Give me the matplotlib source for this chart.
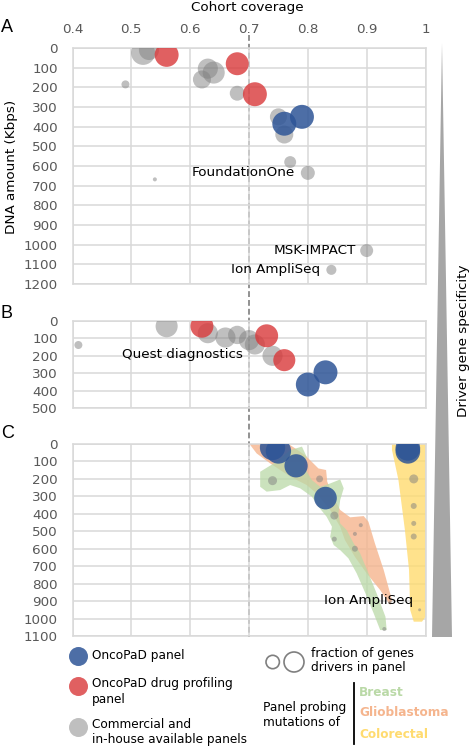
import numpy as np
import matplotlib
matplotlib.use("Agg")
import matplotlib.pyplot as plt
from matplotlib.patches import Polygon

plt.rcParams["font.family"] = "DejaVu Sans"

W, H = 472, 747          # output size in pixels (dpi 100)
S_MAX = 350              # marker area (pt^2) for a fraction of 1

X_TICKS = [0.4, 0.5, 0.6, 0.7, 0.8, 0.9, 1.0]
X_LABELS = ["0.4", "0.5", "0.6", "0.7", "0.8", "0.9", "1"]
THRESHOLD = 0.7

# panel A: cohort coverage, DNA amount (Kbps), fraction of genes drivers in panel
A_BLUE_X = [0.76, 0.79]
A_BLUE_Y = [385, 350]
A_BLUE_F = [0.85, 0.85]
A_RED_X = [0.56, 0.68, 0.71]
A_RED_Y = [35, 80, 235]
A_RED_F = [0.85, 0.78, 0.85]
A_GRAY_X = [0.52, 0.53, 0.49, 0.62, 0.63, 0.64, 0.68, 0.75, 0.76, 0.77, 0.80, 0.54, 0.90, 0.84]
A_GRAY_Y = [25, 10, 185, 160, 105, 125, 230, 350, 440, 580, 635, 668, 1030, 1128]
A_GRAY_F = [0.85, 0.6, 0.095, 0.48, 0.6, 0.72, 0.33, 0.43, 0.48, 0.21, 0.29, 0.024, 0.25, 0.15]

# panel B
B_BLUE_X = [0.83, 0.80]
B_BLUE_Y = [295, 365]
B_BLUE_F = [0.85, 0.85]
B_RED_X = [0.62, 0.73, 0.76]
B_RED_Y = [30, 85, 225]
B_RED_F = [0.78, 0.78, 0.72]
B_GRAY_X = [0.41, 0.56, 0.63, 0.66, 0.68, 0.70, 0.71, 0.74]
B_GRAY_Y = [138, 30, 70, 95, 80, 110, 135, 200]
B_GRAY_F = [0.095, 0.72, 0.6, 0.6, 0.5, 0.6, 0.6, 0.6]

# panel C
C_BLUE_X = [0.74, 0.75, 0.78, 0.83, 0.97, 0.97]
C_BLUE_Y = [20, 40, 125, 310, 25, 42]
C_BLUE_F = [0.95, 0.95, 0.8, 0.76, 0.9, 0.9]
C_GRAY_X = [0.74, 0.82, 0.845, 0.89, 0.88, 0.845, 0.88, 0.94, 0.93,
            0.98, 0.98, 0.98, 0.98, 0.99]
C_GRAY_Y = [210, 200, 410, 465, 515, 545, 600, 905, 1060,
            200, 355, 455, 530, 950]
C_GRAY_F = [0.12, 0.07, 0.095, 0.024, 0.024, 0.037, 0.053, 0.013, 0.024,
            0.12, 0.053, 0.037, 0.053, 0.013]

# outlines of the panels probing mutations of each tumour type (panel C)
BREAST_X = [0.719, 0.747, 0.770, 0.790, 0.798, 0.793, 0.807, 0.821, 0.838, 0.855,
            0.861, 0.855, 0.852, 0.855, 0.866, 0.878, 0.889, 0.903, 0.917, 0.932,
            0.934, 0.923, 0.912, 0.898, 0.883, 0.869, 0.855, 0.844, 0.838, 0.841,
            0.832, 0.818, 0.807, 0.787, 0.770, 0.753, 0.730, 0.719]
BREAST_Y = [159, 101, 35, 15, 73, 130, 207, 245, 226, 203,
            254, 321, 398, 455, 493, 570, 627, 741, 856, 990,
            1066, 1066, 971, 856, 741, 655, 608, 579, 531, 474,
            417, 359, 302, 254, 235, 264, 273, 245]
GLIO_X = [0.699, 0.770, 0.795, 0.818, 0.831, 0.833, 0.843, 0.855, 0.872, 0.895,
          0.903, 0.914, 0.929, 0.943, 0.940, 0.923, 0.900, 0.880, 0.863, 0.855,
          0.838, 0.815, 0.798, 0.770, 0.736, 0.713]
GLIO_Y = [-8, 6, 63, 140, 149, 216, 302, 378, 420, 413,
          445, 569, 722, 894, 923, 837, 741, 646, 550, 474,
          378, 283, 235, 187, 111, 54]
COLO_X = [0.943, 1.0, 1.0, 0.994, 0.980, 0.974, 0.972, 0.965, 0.954, 0.943]
COLO_Y = [-4, -4, 990, 1018, 1018, 951, 722, 493, 206, 34]

BLUE, RED, GRAY = "#2E5597", "#D9383A", "#808080"
ALPHA = {BLUE: 0.85, RED: 0.8, GRAY: 0.5}
BREAST_C, GLIO_C, COLO_C = "#BAD9A7", "#F5B58E", "#FFDB6F"

fig = plt.figure(figsize=(W / 100, H / 100), dpi=100)


def panel(top, bottom, ymax, top_labels):
    ax = fig.add_axes([72.5 / W, 1 - bottom / H, 353 / W, (bottom - top) / H])
    ax.set_xlim(0.4, 1.0)
    ax.set_ylim(ymax, 0)
    ax.set_xticks(X_TICKS)
    ax.set_yticks(np.arange(0, ymax + 1, 100))
    ax.grid(True, color="#d9d9d9", lw=1.1)
    ax.set_axisbelow(True)
    for s in ax.spines.values():
        s.set_color("#d9d9d9")
        s.set_linewidth(1.1)
    ax.tick_params(axis="y", length=0, labelsize=9.7, labelcolor="#595959", pad=10.5)
    if top_labels:
        ax.xaxis.tick_top()
        ax.set_xticklabels(X_LABELS)
        ax.tick_params(axis="x", length=0, labelsize=9.7, labelcolor="#595959", pad=8.5)
    else:
        ax.tick_params(axis="x", length=0, labelbottom=False)
    ax.patch.set_alpha(0)
    ax.set_zorder(1)
    return ax


def bubbles(ax, x, y, f, color):
    ax.scatter(x, y, s=S_MAX * np.asarray(f), color=color, alpha=ALPHA[color],
               lw=0, zorder=3)


axA = panel(48, 284, 1200, True)
axB = panel(321, 408, 500, False)
axC = panel(444, 636, 1100, False)

bubbles(axA, A_GRAY_X, A_GRAY_Y, A_GRAY_F, GRAY)
bubbles(axA, A_RED_X, A_RED_Y, A_RED_F, RED)
bubbles(axA, A_BLUE_X, A_BLUE_Y, A_BLUE_F, BLUE)
bubbles(axB, B_GRAY_X, B_GRAY_Y, B_GRAY_F, GRAY)
bubbles(axB, B_RED_X, B_RED_Y, B_RED_F, RED)
bubbles(axB, B_BLUE_X, B_BLUE_Y, B_BLUE_F, BLUE)

axC.fill(COLO_X, COLO_Y, color=COLO_C, alpha=0.8, lw=0, zorder=1)
axC.fill(GLIO_X, GLIO_Y, color=GLIO_C, alpha=0.8, lw=0, zorder=1)
axC.fill(BREAST_X, BREAST_Y, color=BREAST_C, alpha=0.75, lw=0, zorder=1)
bubbles(axC, C_GRAY_X, C_GRAY_Y, C_GRAY_F, GRAY)
bubbles(axC, C_BLUE_X, C_BLUE_Y, C_BLUE_F, BLUE)

lab = dict(fontsize=9.7, ha="right", va="center", zorder=4)
axA.annotate("FoundationOne", (0.80, 635), xytext=(-9.5, 0), textcoords="offset points", **lab)
axA.annotate("MSK-IMPACT", (0.90, 1030), xytext=(-7.7, 0), textcoords="offset points", **lab)
axA.annotate("Ion AmpliSeq", (0.84, 1128), xytext=(-8, 0), textcoords="offset points", **lab)
axB.text(0.69, 190, "Quest diagnostics", **lab)
axC.annotate("Ion AmpliSeq", (0.99, 950), xytext=(-4.8, 7), textcoords="offset points", **lab)

# overlay in pixel coordinates for the figure-level decorations
ov = fig.add_axes([0, 0, 1, 1])
ov.set_xlim(0, W)
ov.set_ylim(H, 0)
ov.axis("off")
ov.set_zorder(0)

ov.text(12, 167, "DNA amount (Kbps)", rotation=90, fontsize=9.7,
        ha="center", va="center")

x7 = axA.transData.transform((THRESHOLD, 0))[0]
ov.plot([x7, x7], [35, 637], color="#7f7f7f", lw=1.2, dashes=(3.5, 1.8))

ov.add_patch(Polygon([(432, 637), (452, 637), (442, 43)], closed=True,
                     color="#a6a6a6", lw=0))
ov.text(463, 341, "Driver gene specificity", rotation=90, fontsize=9.7,
        ha="center", va="center")
ov.text(247.5, 7, "Cohort coverage", fontsize=9.7, ha="center", va="center")
for t, y in [("A", 28), ("B", 314), ("C", 434)]:
    ov.text(1, y, t, fontsize=13, family="Liberation Sans", ha="left", va="center")

# legend
leg = 8.7
for c, y in [(BLUE, 656), (RED, 686), (GRAY, 727)]:
    ov.scatter([78], [y], s=187, color=c, alpha=ALPHA[c], lw=0)
ov.text(92, 656, "OncoPaD panel", fontsize=leg, va="center")
ov.text(92, 683, "OncoPaD drug profiling", fontsize=leg, va="center")
ov.text(92, 700, "panel", fontsize=leg, va="center")
ov.text(92, 725, "Commercial and", fontsize=leg, va="center")
ov.text(92, 740, "in-house available panels", fontsize=leg, va="center")

ov.scatter([272.7, 294], [662, 662], s=[93, 207], facecolor="none",
           edgecolor="#7f7f7f", lw=1.2)
ov.text(311, 653, "fraction of genes", fontsize=leg, va="center")
ov.text(311, 668, "drivers in panel", fontsize=leg, va="center")

ov.text(263, 708, "Panel probing", fontsize=leg, va="center")
ov.text(263, 722, "mutations of", fontsize=leg, va="center")
ov.plot([353.5, 353.5], [683, 744], color="black", lw=1.3)
for t, c, y in [("Breast", BREAST_C, 692), ("Glioblastoma", GLIO_C, 712),
                ("Colorectal", COLO_C, 734)]:
    ov.text(359, y, t, fontsize=leg, fontweight="bold", color=c, va="center")

fig.savefig("out.png", dpi=100)
